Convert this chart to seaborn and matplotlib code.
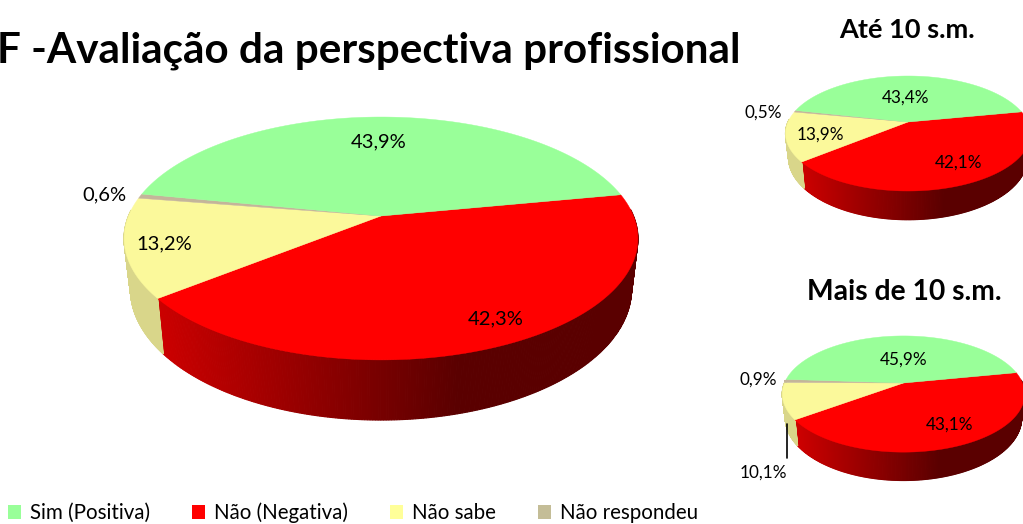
import numpy as np
import matplotlib
matplotlib.use("Agg")
import matplotlib.pyplot as plt
from matplotlib.patches import Patch
from matplotlib.colors import to_rgb
import seaborn as sns

categories = ["Sim (Positiva)", "Não (Negativa)", "Não sabe", "Não respondeu"]
total_values = [43.9, 42.3, 13.2, 0.6]
ate10_values = [43.4, 42.1, 13.9, 0.5]
mais10_values = [45.9, 43.1, 10.1, 0.9]

title = "F -Avaliação da perspectiva profissional"
ate10_title = "Até 10 s.m."
mais10_title = "Mais de 10 s.m."

sns.set_theme(style="white")
plt.rcParams["font.family"] = ["Lato", "DejaVu Sans"]

top_colors = sns.color_palette(["#99ff99", "#ff0000", "#fbf99b", "#c4b59a"])
legend_colors = sns.color_palette(["#99ff99", "#ff0000", "#ffff99", "#c4bd97"])
yellow_wall = "#d9d68a"


def project(t, geo):
    # tilted disc -> screen, near side is larger
    w = 1 + geo["k"] * np.sin(t)
    x = geo["cx"] + geo["r"] * np.cos(t) / w
    y = geo["cy"] - geo["ry"] * np.sin(t) / w
    return x, y, w


def project_bottom(t, geo):
    x, y, w = project(t, geo)
    x = geo["cx"] + (x - geo["cx"]) * 0.975
    return x, y + geo["depth"] / w


def wall_color(i, x, geo):
    if i == 2:
        return to_rgb(yellow_wall)
    if i != 1:
        return top_colors[i]
    f = np.clip((x - geo["cx"] + 0.9 * geo["r"]) / (1.2 * geo["r"]), 0, 1)
    return ((205 - 115 * f) / 255, 0, 0)


def draw_pie(ax, values, geo):
    order = [1, 2, 3, 0]  # clockwise from the start angle
    total = sum(values)
    a = geo["start"]
    wedges = {}
    for i in order:
        b = a - 360 * values[i] / total
        wedges[i] = np.radians(np.linspace(a, b, 300))
        a = b

    # side wall first, only the front part shows
    for i in order:
        t = wedges[i]
        for t0, t1 in zip(t[:-1], t[1:]):
            if np.sin(t0) > 0.05 and np.sin(t1) > 0.05:
                continue
            x0, y0, _ = project(t0, geo)
            x1, y1, _ = project(t1, geo)
            x2, y2 = project_bottom(t1, geo)
            x3, y3 = project_bottom(t0, geo)
            c = wall_color(i, (x0 + x1) / 2, geo)
            ax.fill([x0, x1, x2, x3], [y0, y1, y2, y3], color=c, lw=0.8)

    for i in order:
        x, y, _ = project(wedges[i], geo)
        ax.fill(np.r_[geo["cx"], x], np.r_[geo["cy"], y], color=top_colors[i], lw=0.3)


def pct(v):
    return f"{v:.1f}%".replace(".", ",")


fig = plt.figure(figsize=(10.23, 5.24), dpi=100)
ax = fig.add_axes([0, 0, 1, 1])
ax.set_xlim(0, 1023)
ax.set_ylim(524, 0)
ax.axis("off")

main_geo = dict(cx=381, cy=216, r=252.5, ry=117.3, k=0.185, depth=49, start=10.8)
ate10_geo = dict(cx=908, cy=122, r=120, ry=55.2, k=0.2, depth=23, start=11)
mais10_geo = dict(cx=903.5, cy=383, r=119, ry=56, k=0.19, depth=23, start=11)

draw_pie(ax, total_values, main_geo)
draw_pie(ax, ate10_values, ate10_geo)
draw_pie(ax, mais10_values, mais10_geo)

ax.plot([787, 787], [424, 458], color="black", lw=1.2)

ax.text(-3, 62, title, fontsize=30.4, fontweight="bold", color="black", va="baseline", ha="left")
ax.text(907, 30, ate10_title, fontsize=19.5, fontweight="bold", color="black", ha="center", va="center")
ax.text(904, 292, mais10_title, fontsize=20.3, fontweight="bold", color="black", ha="center", va="center")

main_pos = [(379, 142), (496, 319), (164, 244), (104, 195)]
ate10_pos = [(906, 98), (959, 163), (820, 135), (763, 113)]
mais10_pos = [(904, 360), (950, 425), (763, 473), (758, 380)]
for vals, positions, size in [(total_values, main_pos, 14.5),
                              (ate10_values, ate10_pos, 12.3),
                              (mais10_values, mais10_pos, 12.3)]:
    for v, (x, y) in zip(vals, positions):
        ax.text(x, y, pct(v), fontsize=size, ha="center", va="center", color="black")

handles = [Patch(facecolor=c, edgecolor="none") for c in legend_colors]
ax.legend(handles, categories, loc="center left", bbox_to_anchor=(8, 513),
          bbox_transform=ax.transData, ncol=4, frameon=False, fontsize=14.8,
          handlelength=0.62, handleheight=0.62, handletextpad=0.45,
          columnspacing=2.05, borderpad=0, borderaxespad=0, labelcolor="black")

fig.savefig("out.png", dpi=100)
